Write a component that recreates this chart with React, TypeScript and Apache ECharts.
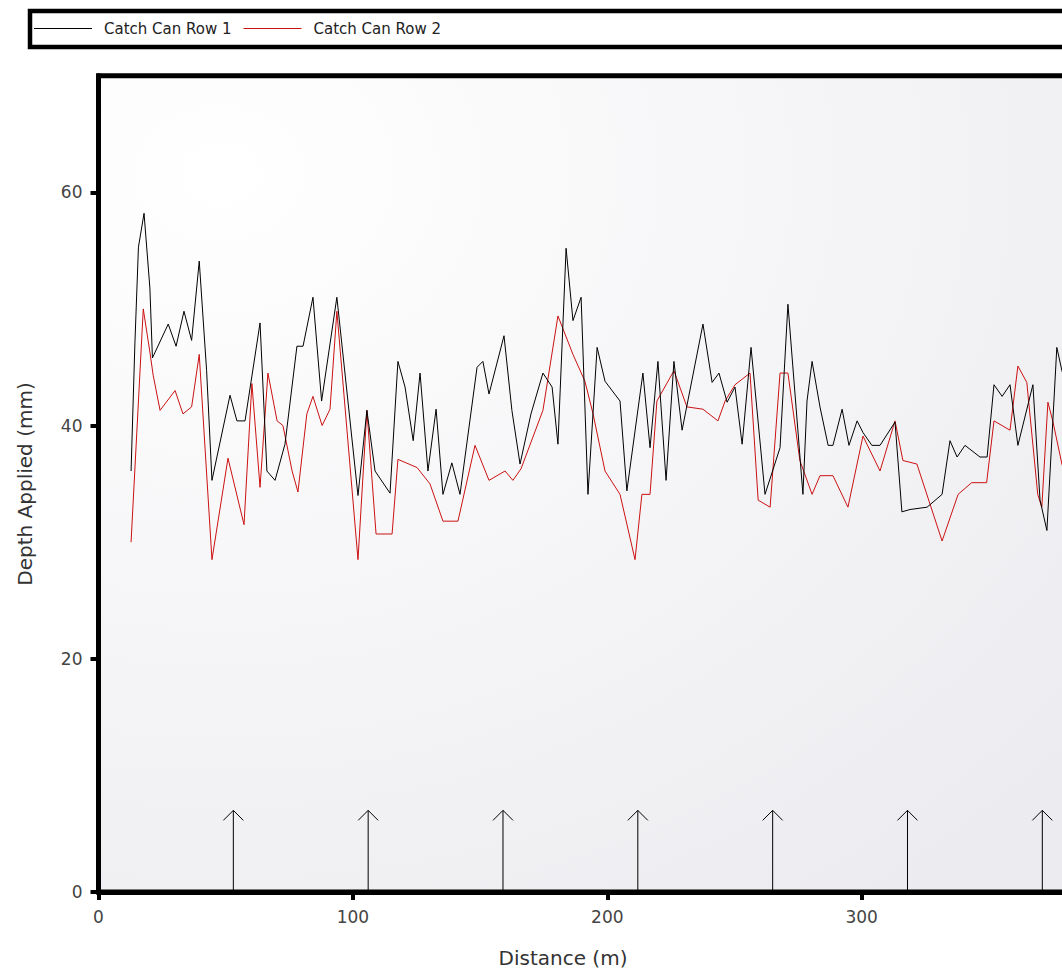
import React, { useEffect, useRef } from "react";
import * as echarts from "echarts";

const row1Distance = [
  12.8, 14.3, 15.7, 17.9, 20.2, 21.2, 27.4, 30.5, 33.6, 36.6,
  39.6, 42.5, 44.6, 51.7, 54.4, 57.6, 63.5, 66.2, 69.4, 73.3,
  78.0, 80.4, 84.3, 87.7, 93.7, 102.0, 105.5, 108.7, 114.6, 117.7,
  120.5, 123.7, 126.4, 129.5, 132.7, 135.4, 138.9, 142.1, 148.8, 151.1,
  153.5, 159.4, 162.5, 165.7, 170.0, 174.7, 178.3, 180.6, 183.8, 186.5,
  189.7, 192.4, 196.0, 199.1, 205.0, 207.7, 214.0, 216.8, 219.9, 223.1,
  226.2, 229.4, 237.6, 241.2, 243.9, 247.1, 250.2, 253.0, 256.5, 262.0,
  267.9, 271.0, 276.9, 278.5, 280.5, 283.6, 286.8, 288.7, 292.3, 295.0,
  298.2, 300.5, 304.0, 307.2, 313.1, 315.8, 319.0, 325.7, 331.6, 334.7,
  337.5, 340.6, 346.5, 349.3, 352.0, 355.2, 358.3, 361.4, 367.3, 370.1,
  372.8, 376.7, 378.7, 381.0,
];
const row1Depth = [
  36.1, 47.0, 55.3, 58.2, 51.8, 45.8, 48.7, 46.8, 49.8, 47.3,
  54.1, 44.7, 35.3, 42.6, 40.4, 40.4, 48.8, 36.1, 35.3, 38.4,
  46.8, 46.8, 51.0, 42.1, 51.0, 34.0, 41.3, 36.1, 34.2, 45.5,
  43.3, 38.7, 44.5, 36.1, 41.4, 34.1, 36.8, 34.1, 45.0, 45.5,
  42.7, 47.7, 41.3, 36.7, 41.0, 44.5, 43.3, 38.4, 55.2, 49.0,
  51.0, 34.1, 46.7, 43.8, 42.1, 34.4, 44.5, 38.1, 45.5, 35.3,
  45.5, 39.6, 48.7, 43.7, 44.5, 42.0, 43.3, 38.4, 46.7, 34.1,
  38.1, 50.4, 34.1, 42.1, 45.5, 41.6, 38.3, 38.3, 41.4, 38.3,
  40.4, 39.4, 38.3, 38.3, 40.3, 32.6, 32.8, 33.0, 34.1, 38.7,
  37.3, 38.3, 37.3, 37.3, 43.5, 42.5, 43.5, 38.3, 43.5, 33.6,
  31.0, 46.7, 44.7, 43.0,
];
const row2Distance = [
  12.8, 17.6, 20.2, 21.5, 24.2, 30.1, 33.2, 36.6, 39.6, 44.6,
  50.9, 57.2, 60.3, 63.5, 66.6, 70.2, 72.5, 76.1, 78.4, 81.9,
  84.3, 87.9, 91.0, 93.7, 102.0, 105.5, 109.1, 115.4, 117.7, 125.2,
  130.3, 135.4, 141.3, 148.0, 153.5, 159.8, 162.9, 166.1, 174.7, 180.6,
  186.5, 191.2, 194.4, 199.1, 205.0, 210.9, 213.6, 216.8, 219.5, 226.2,
  231.3, 237.6, 243.5, 246.3, 250.2, 256.1, 259.3, 264.0, 267.9, 271.0,
  275.7, 280.5, 283.6, 288.7, 294.6, 300.5, 307.2, 313.1, 316.2, 321.7,
  331.6, 337.9, 343.2, 349.1, 352.0, 358.3, 361.4, 364.9, 369.2, 370.8,
  373.2, 375.1, 378.7, 381.0,
];
const row2Depth = [
  30.0, 50.0, 46.3, 44.3, 41.3, 43.0, 41.0, 41.6, 46.1, 28.5,
  37.2, 31.5, 43.6, 34.7, 44.5, 40.4, 40.0, 36.1, 34.3, 41.0,
  42.5, 40.0, 41.4, 49.8, 28.5, 41.3, 30.7, 30.7, 37.1, 36.4,
  35.0, 31.8, 31.8, 38.3, 35.3, 36.1, 35.3, 36.3, 41.3, 49.4,
  46.1, 43.8, 41.0, 36.1, 34.1, 28.5, 34.1, 34.1, 42.1, 44.7,
  41.6, 41.4, 40.4, 42.1, 43.5, 44.5, 33.6, 33.0, 44.5, 44.5,
  37.0, 34.1, 35.7, 35.7, 33.0, 39.1, 36.1, 40.4, 37.0, 36.7,
  30.1, 34.1, 35.1, 35.1, 40.4, 39.6, 45.1, 43.7, 34.1, 33.0,
  42.0, 40.4, 36.7, 35.0,
];
const towerDistance = [53, 106, 159, 212, 265, 318, 371];
const towerArrowHeight = [7, 7, 7, 7, 7, 7, 7];
const xTickValues = [0, 100, 200, 300];
const yTickValues = [0, 20, 40, 60];
const seriesNames = ["Catch Can Row 1", "Catch Can Row 2"];

const FONT = "'DejaVu Sans', Verdana, sans-serif";

export default function App() {
  const ref = useRef<HTMLDivElement>(null);

  useEffect(() => {
    if (!ref.current) return;
    const chart = echarts.init(ref.current, null, { renderer: "svg" });

    const gridLeft = 98.5;
    const gridTop = 75.7;
    const gridHeight = 892 - 75.7;
    const xMax = 400;
    const gridWidth = xMax * 2.544;

    chart.setOption({
      animation: false,
      textStyle: { fontFamily: FONT },
      legend: {
        data: seriesNames,
        left: 34,
        top: 21,
        padding: 0,
        itemWidth: 58,
        itemHeight: 1,
        itemGap: 12,
        icon: "rect",
        textStyle: {
          fontSize: 15,
          color: "#222",
          fontFamily: FONT,
          padding: [0, 0, 0, 7],
        },
      },
      grid: {
        left: gridLeft,
        top: gridTop,
        width: gridWidth,
        height: gridHeight,
        show: true,
        borderColor: "#000",
        borderWidth: 5,
        backgroundColor: {
          type: "radial",
          x: 0.12,
          y: 0.12,
          r: 1.1,
          colorStops: [
            { offset: 0, color: "#ffffff" },
            { offset: 1, color: "#ececf0" },
          ],
        },
      },
      xAxis: {
        type: "value",
        min: 0,
        max: xMax,
        interval: 100,
        axisLine: { show: true, lineStyle: { color: "#000", width: 5 } },
        axisTick: {
          show: true,
          length: 8,
          customValues: xTickValues,
          lineStyle: { color: "#000", width: 4 },
        },
        axisLabel: {
          customValues: xTickValues,
          margin: 16,
          fontSize: 17,
          color: "#444",
          fontFamily: FONT,
        },
        splitLine: { show: false },
      },
      yAxis: {
        type: "value",
        min: 0,
        max: 70,
        interval: 20,
        axisLine: { show: true, lineStyle: { color: "#000", width: 5 } },
        axisTick: {
          show: true,
          length: 8,
          customValues: yTickValues,
          lineStyle: { color: "#000", width: 4 },
        },
        axisLabel: {
          customValues: yTickValues,
          margin: 16,
          fontSize: 17,
          color: "#444",
          fontFamily: FONT,
        },
        splitLine: { show: false },
      },
      graphic: [
        {
          type: "rect",
          shape: { x: 30, y: 11, width: 1200, height: 36 },
          style: { fill: "#fff", stroke: "#000", lineWidth: 4.5 },
          z: -10,
        },
        {
          type: "text",
          x: 563,
          y: 958,
          style: {
            text: "Distance (m)",
            fontSize: 20,
            fontFamily: FONT,
            fill: "#333",
            align: "center",
            verticalAlign: "middle",
          },
        },
        {
          type: "text",
          x: 25,
          y: 484,
          rotation: Math.PI / 2,
          style: {
            text: "Depth Applied (mm)",
            fontSize: 20,
            fontFamily: FONT,
            fill: "#333",
            align: "center",
            verticalAlign: "middle",
          },
        },
      ],
      series: [
        {
          name: seriesNames[0],
          type: "line",
          data: row1Distance.map((d, i) => [d, row1Depth[i]]),
          symbol: "none",
          lineStyle: { color: "#000", width: 1 },
          itemStyle: { color: "#000" },
          z: 3,
        },
        {
          name: seriesNames[1],
          type: "line",
          data: row2Distance.map((d, i) => [d, row2Depth[i]]),
          symbol: "none",
          lineStyle: { color: "#cc1111", width: 1 },
          itemStyle: { color: "#cc1111" },
          z: 2,
        },
        {
          type: "custom",
          silent: true,
          data: towerDistance.map((d, i) => [d, towerArrowHeight[i]]),
          renderItem: (params: any, api: any) => {
            const base = api.coord([api.value(0), 0]);
            const tip = api.coord([api.value(0), api.value(1)]);
            return {
              type: "group",
              children: [
                {
                  type: "line",
                  shape: { x1: base[0], y1: base[1], x2: tip[0], y2: tip[1] },
                  style: { stroke: "#000", lineWidth: 1 },
                },
                {
                  type: "polyline",
                  shape: {
                    points: [
                      [tip[0] - 10, tip[1] + 10],
                      [tip[0], tip[1]],
                      [tip[0] + 10, tip[1] + 10],
                    ],
                  },
                  style: { stroke: "#000", fill: "none", lineWidth: 1 },
                },
              ],
            };
          },
          z: 1,
        },
      ],
    });

    return () => chart.dispose();
  }, []);

  return (
    <div
      style={{
        position: "fixed",
        left: 0,
        top: 0,
        width: 1062,
        height: 973,
        overflow: "hidden",
        background: "#fff",
      }}
    >
      <div ref={ref} style={{ width: 1300, height: 973 }} />
    </div>
  );
}
